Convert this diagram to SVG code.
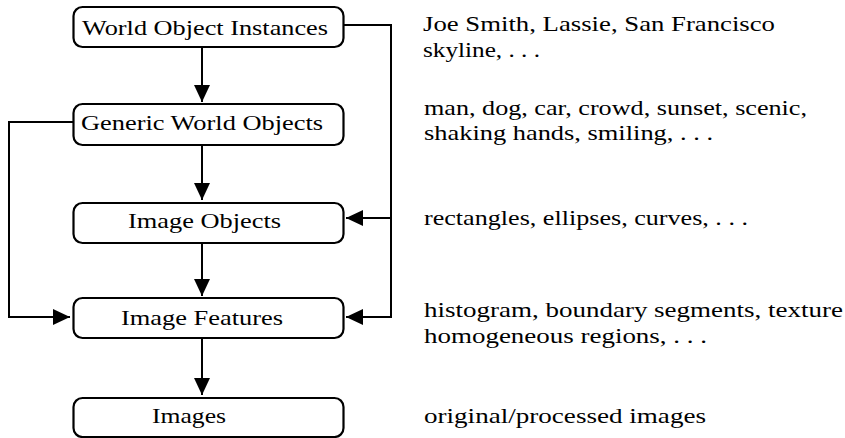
<svg xmlns="http://www.w3.org/2000/svg" width="845" height="438" viewBox="0 0 845 438">
<style>
  .box { fill: #fff; stroke: #000; stroke-width: 2.2; }
  .t { font-family: 'Liberation Serif', 'Times New Roman', serif; font-size: 22px; fill: #000; }
  .c { fill: none; stroke: #000; stroke-width: 2; }
</style>
<defs>
  <marker id="ah" markerUnits="userSpaceOnUse" markerWidth="18" markerHeight="16" refX="17" refY="8" orient="auto">
    <path d="M0,0 L17,8 L0,16 z" fill="#000"/>
  </marker>
</defs>
<rect width="845" height="438" fill="#fff"/>
<g id="connectors">
  <line class="c" x1="202" y1="47" x2="202" y2="102" marker-end="url(#ah)"/>
  <line class="c" x1="202" y1="145" x2="202" y2="200" marker-end="url(#ah)"/>
  <line class="c" x1="202" y1="243" x2="202" y2="296" marker-end="url(#ah)"/>
  <line class="c" x1="202" y1="338" x2="202" y2="395" marker-end="url(#ah)"/>
  <path class="c" d="M343,25 H391 V317 H346" marker-end="url(#ah)"/>
  <path class="c" d="M391,218 H346" marker-end="url(#ah)"/>
  <path class="c" d="M73,122 H9 V317 H70" marker-end="url(#ah)"/>
</g>
<g id="n1">
  <rect class="box" x="73.5" y="7" width="270" height="40" rx="9"/>
  <text class="t" x="82" y="35" textLength="246" lengthAdjust="spacingAndGlyphs">World Object Instances</text>
</g>
<g id="n2">
  <rect class="box" x="73.5" y="104" width="270" height="41" rx="9"/>
  <text class="t" x="81" y="130" textLength="242" lengthAdjust="spacingAndGlyphs">Generic World Objects</text>
</g>
<g id="n3">
  <rect class="box" x="73.5" y="203" width="270" height="40" rx="9"/>
  <text class="t" x="128" y="228" textLength="153" lengthAdjust="spacingAndGlyphs">Image Objects</text>
</g>
<g id="n4">
  <rect class="box" x="73.5" y="298" width="270" height="40" rx="9"/>
  <text class="t" x="121" y="325" textLength="162" lengthAdjust="spacingAndGlyphs">Image Features</text>
</g>
<g id="n5">
  <rect class="box" x="73.5" y="398" width="270" height="39" rx="9"/>
  <text class="t" x="152" y="423" textLength="74" lengthAdjust="spacingAndGlyphs">Images</text>
</g>
<g id="descriptions">
  <text class="t" x="423" y="31" textLength="352" lengthAdjust="spacingAndGlyphs">Joe Smith, Lassie, San Francisco</text>
  <text class="t" x="423" y="57" textLength="117" lengthAdjust="spacingAndGlyphs">skyline, . . .</text>
  <text class="t" x="424" y="115" textLength="383" lengthAdjust="spacingAndGlyphs">man, dog, car, crowd, sunset, scenic,</text>
  <text class="t" x="424" y="140" textLength="289" lengthAdjust="spacingAndGlyphs">shaking hands, smiling, . . .</text>
  <text class="t" x="424" y="225" textLength="324" lengthAdjust="spacingAndGlyphs">rectangles, ellipses, curves, . . .</text>
  <text class="t" x="424" y="317" textLength="419" lengthAdjust="spacingAndGlyphs">histogram, boundary segments, texture</text>
  <text class="t" x="424" y="343" textLength="283" lengthAdjust="spacingAndGlyphs">homogeneous regions, . . .</text>
  <text class="t" x="424" y="423" textLength="282" lengthAdjust="spacingAndGlyphs">original/processed images</text>
</g>
</svg>
